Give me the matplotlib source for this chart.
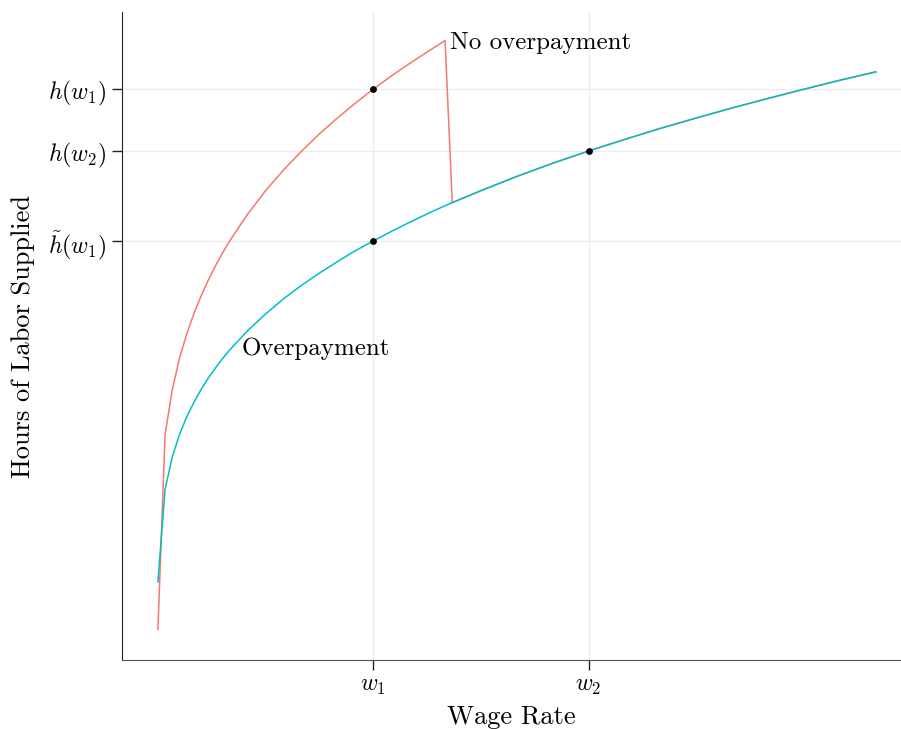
import matplotlib
matplotlib.use("Agg")
import matplotlib.pyplot as plt

# wage rate grid and labour supply
wage_low = [0, 0.1, 0.2, 0.3, 0.4, 0.5, 0.6, 0.7, 0.8, 0.9, 1, 1.25, 1.5,
            1.75, 2, 2.25, 2.5, 2.75, 3, 3.25, 3.5, 3.75, 4]
hours_no_over = [0, 0.697, 0.858, 0.969, 1.056, 1.129, 1.192, 1.249, 1.300,
                 1.347, 1.390, 1.486, 1.570, 1.644, 1.711, 1.773, 1.830,
                 1.883, 1.933, 1.980, 2.024, 2.066, 2.107]

wage_all = wage_low + [4.1, 4.5, 5, 5.5, 6, 6.5, 7, 7.5, 8, 8.5, 9, 9.5, 10]
hours_over = [0.17, 0.501, 0.617, 0.697, 0.760, 0.812, 0.858, 0.899, 0.935,
              0.969, 1.0, 1.069, 1.129, 1.183, 1.231, 1.275, 1.316, 1.355,
              1.390, 1.424, 1.456, 1.487, 1.516,
              1.527, 1.570, 1.621, 1.668, 1.712, 1.753, 1.793, 1.830, 1.866,
              1.900, 1.933, 1.965, 1.995]

# red curve drops onto the teal one just after w = 4
n_low = len(wage_low)
wage_red = wage_low + wage_all[n_low:]
hours_red = hours_no_over + hours_over[n_low:]

point_x = [3, 3, 6]
point_y = [1.933, 1.39, 1.712]

x_ticks = [3, 6]
x_labels = [r"$w_1$", r"$w_2$"]
y_ticks = [1.39, 1.712, 1.933]
y_labels = [r"$\tilde{h}(w_1)$", r"$h(w_2)$", r"$h(w_1)$"]

plt.rcParams["font.family"] = "cmr10"
plt.rcParams["mathtext.fontset"] = "cm"
plt.rcParams["axes.formatter.use_mathtext"] = True

fig = plt.figure(figsize=(9.01, 7.29), dpi=100)
ax = fig.add_axes([0.1354, 0.0947, 0.8646, 0.8888])

ax.plot(wage_red, hours_red, color="#F8766D", lw=1.1, zorder=2)
ax.plot(wage_all, hours_over, color="#00BFC4", lw=1.1, zorder=3)
ax.scatter(point_x, point_y, s=24, color="black", zorder=4, linewidths=0)

ax.text(4.07, 2.098, "No overpayment", fontsize=18, va="center", ha="left")
ax.text(1.16, 1.004, "Overpayment", fontsize=18, va="center", ha="left")

ax.set_xlim(-0.5, 10.35)
ax.set_ylim(-0.109, 2.209)
ax.set_xticks(x_ticks)
ax.set_xticklabels(x_labels, fontsize=17)
ax.set_yticks(y_ticks)
ax.set_yticklabels(y_labels, fontsize=17)

ax.grid(True, color="#EBEBEB", lw=0.8)
ax.set_axisbelow(True)
for side in ["top", "right"]:
    ax.spines[side].set_visible(False)
ax.spines["left"].set_color("#222222")
ax.spines["bottom"].set_color("#555555")
ax.tick_params(length=7, width=1, color="#222222", pad=4)

ax.set_xlabel("Wage Rate", fontsize=19, labelpad=6)
ax.set_ylabel("Hours of Labor Supplied", fontsize=19, labelpad=10)

fig.savefig("out.png", dpi=100)
